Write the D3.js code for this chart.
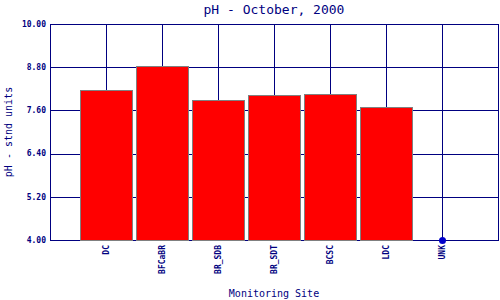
<!DOCTYPE html>
<html>
<head>
<meta charset="utf-8">
<script src="https://cdn.jsdelivr.net/npm/d3@7"></script>
<style>
  body { margin: 0; background: #fff; }
  svg { display: block; }
</style>
</head>
<body>
<svg id="chart" width="500" height="300"></svg>
<script>
// data
const sites = ["DC", "BFCaBR", "BR_SDB", "BR_SDT", "BCSC", "LDC", "UNK"];
const phValues = [8.17, 8.82, 7.89, 8.03, 8.05, 7.69, null];
const yTicks = [4.0, 5.2, 6.4, 7.6, 8.8, 10.0];

const navy = "#000080";
const mono = "'DejaVu Sans Mono', monospace";

const width = 500, height = 300;
const margin = { top: 24, right: 1, bottom: 60, left: 50 };

const svg = d3.select("#chart");

// site i sits at position i + 1, domain runs 0..8
const x = d3.scaleLinear([0, 8], [margin.left, width - margin.right - 1]);
const y = d3.scaleLinear([4, 10], [height - margin.bottom, margin.top]);
const barW = 52;

// grid
const grid = svg.append("g").attr("stroke", navy).attr("stroke-width", 1);
grid.selectAll("line.h")
  .data(yTicks)
  .join("line")
  .attr("x1", x(0)).attr("x2", x(8))
  .attr("y1", d => Math.round(y(d)) + 0.5)
  .attr("y2", d => Math.round(y(d)) + 0.5);
grid.selectAll("line.v")
  .data(sites)
  .join("line")
  .attr("x1", (d, i) => Math.round(x(i + 1)) + 0.5)
  .attr("x2", (d, i) => Math.round(x(i + 1)) + 0.5)
  .attr("y1", y(10)).attr("y2", y(4));
// frame
svg.append("rect")
  .attr("x", x(0) + 0.5).attr("y", Math.round(y(10)) + 0.5)
  .attr("width", x(8) - x(0)).attr("height", Math.round(y(4)) - Math.round(y(10)))
  .attr("fill", "none").attr("stroke", navy);

// bars
const barData = sites.map((s, i) => ({ site: s, i, v: phValues[i] }));
svg.append("g")
  .selectAll("rect")
  .data(barData.filter(d => d.v != null))
  .join("rect")
  .attr("x", d => Math.round(x(d.i + 1) - barW / 2) + 0.5)
  .attr("y", d => Math.round(y(d.v)) + 0.5)
  .attr("width", barW)
  .attr("height", d => Math.round(y(4)) - Math.round(y(d.v)))
  .attr("fill", "#ff0000")
  .attr("stroke", "#808080")
  .attr("stroke-width", 1);

// missing value drawn as a dot on the baseline
svg.append("g")
  .selectAll("circle")
  .data(barData.filter(d => d.v == null))
  .join("circle")
  .attr("cx", d => x(d.i + 1) + 0.5)
  .attr("cy", y(4) + 0.5)
  .attr("r", 3.5)
  .attr("fill", "#0000cc");

// y tick labels
svg.append("g")
  .selectAll("text")
  .data(yTicks)
  .join("text")
  .attr("x", x(0) - 4)
  .attr("y", d => y(d))
  .attr("dy", "0.35em")
  .attr("text-anchor", "end")
  .style("font", `bold 8px ${mono}`)
  .attr("fill", navy)
  .text(d => d.toFixed(2));

// x tick labels, rotated
svg.append("g")
  .selectAll("text")
  .data(sites)
  .join("text")
  .attr("transform", (d, i) => `translate(${x(i + 1) + 3},${y(4) + 5}) rotate(-90)`)
  .attr("text-anchor", "end")
  .style("font", `bold 8px ${mono}`)
  .attr("fill", navy)
  .text(d => d);

// title and axis titles
svg.append("text")
  .attr("x", (x(0) + x(8)) / 2)
  .attr("y", 14)
  .attr("text-anchor", "middle")
  .style("font", `13px ${mono}`)
  .attr("fill", navy)
  .text("pH - October, 2000");

svg.append("text")
  .attr("x", (x(0) + x(8)) / 2)
  .attr("y", 297)
  .attr("text-anchor", "middle")
  .style("font", `10px ${mono}`)
  .attr("fill", navy)
  .text("Monitoring Site");

svg.append("text")
  .attr("transform", `translate(12,${(y(4) + y(10)) / 2}) rotate(-90)`)
  .attr("text-anchor", "middle")
  .style("font", `10px ${mono}`)
  .attr("fill", navy)
  .text("pH - stnd units");
</script>
</body>
</html>
